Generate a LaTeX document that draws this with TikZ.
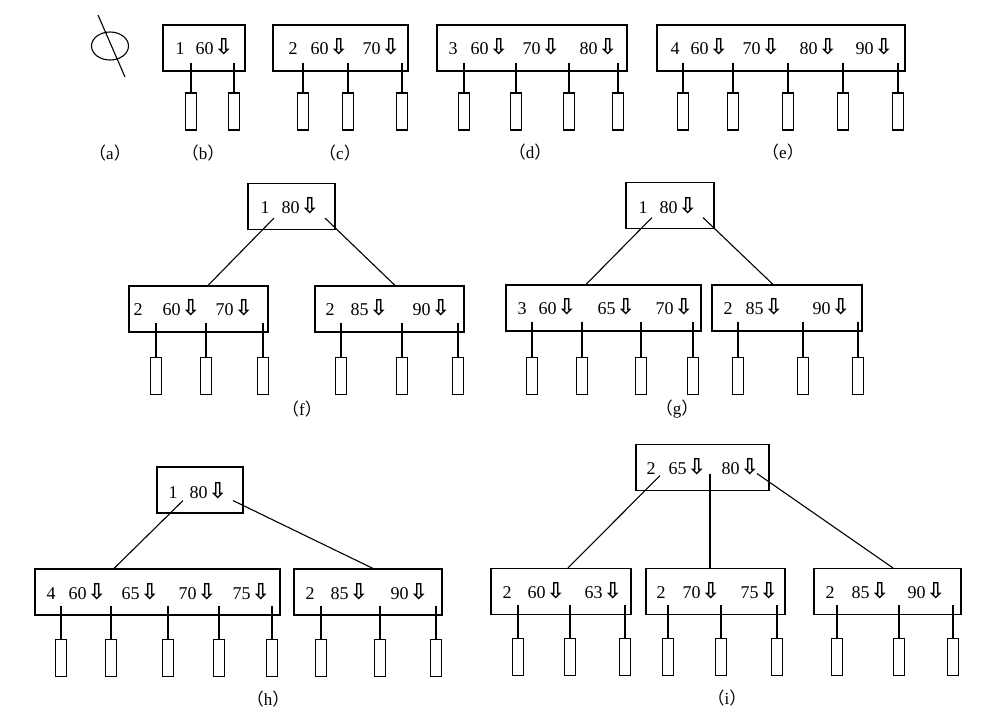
\documentclass[tikz,border=0pt]{standalone}
\usepackage{fontspec}
\setmainfont{Liberation Serif}
\newfontfamily\symfont{DejaVu Sans Bold}
\newfontfamily\cjkfont{Noto Sans CJK SC}
\usetikzlibrary{calc}
\newcommand{\dn}{\kern1pt{\symfont\fontsize{22}{22}\selectfont ⇩}}
\newcommand{\figtag}[1]{{\cjkfont （}#1{\cjkfont ）}}
\tikzset{
  keybox/.style={draw, minimum height=46pt, inner sep=0pt},
  leafbox/.style={draw, minimum width=11pt, minimum height=37pt, inner sep=0pt},
  keytext/.style={anchor=base west, inner sep=0pt, yshift=-6pt, font=\fontsize{18}{18}\selectfont},
  tag/.style={inner sep=0pt, font=\fontsize{17}{17}\selectfont}
}
\begin{document}
\begin{tikzpicture}[x=1pt,y=-1pt,line width=1.1pt]
  \useasboundingbox (0,0) rectangle (1003,724);
  % (a) empty tree
  \draw (110,46) ellipse [x radius=18.5, y radius=14];
  \draw (98,15) -- (125,77);
  \node[tag] (ta) at (110,153) {\figtag{a}};
  % (b)
  \node[keybox, minimum width=82pt] (b0) at (204,48) {};
  \foreach \x/\t [count=\i] in {175/1, 195/60\dn}
    \node[keytext] (b0t\i) at (\x,48) {\t};
  \foreach \x [count=\i] in {191,234} {
    \node[leafbox] (b\i) at (\x,111.5) {};
    \draw ($(b0.south -| b\i)+(0,-9)$) -- (b\i.north);
  }
  \node[tag] (tb) at (203,153) {\figtag{b}};
  % (c)
  \node[keybox, minimum width=135pt] (c0) at (340.5,48) {};
  \foreach \x/\t [count=\i] in {288/2, 310/60\dn, 362/70\dn}
    \node[keytext] (c0t\i) at (\x,48) {\t};
  \foreach \x [count=\i] in {303,348,402} {
    \node[leafbox] (c\i) at (\x,111.5) {};
    \draw ($(c0.south -| c\i)+(0,-9)$) -- (c\i.north);
  }
  \node[tag] (tc) at (340,153) {\figtag{c}};
  % (d)
  \node[keybox, minimum width=190pt] (d0) at (532,48) {};
  \foreach \x/\t [count=\i] in {448/3, 470/60\dn, 522/70\dn, 579/80\dn}
    \node[keytext] (d0t\i) at (\x,48) {\t};
  \foreach \x [count=\i] in {464,516,569,618} {
    \node[leafbox] (d\i) at (\x,111.5) {};
    \draw ($(d0.south -| d\i)+(0,-9)$) -- (d\i.north);
  }
  \node[tag] (td) at (530,152) {\figtag{d}};
  % (e)
  \node[keybox, minimum width=248pt] (e0) at (781,48) {};
  \foreach \x/\t [count=\i] in {670/4, 690/60\dn, 742/70\dn, 799/80\dn, 855/90\dn}
    \node[keytext] (e0t\i) at (\x,48) {\t};
  \foreach \x [count=\i] in {683,733,788,843,898} {
    \node[leafbox] (e\i) at (\x,111.5) {};
    \draw ($(e0.south -| e\i)+(0,-9)$) -- (e\i.north);
  }
  \node[tag] (te) at (783,152) {\figtag{e}};
  % (f)
  \node[keybox, minimum width=87pt] (f0) at (291.5,206.5) {};
  \node[keybox, minimum width=139pt] (fL) at (198.5,309) {};
  \node[keybox, minimum width=149pt] (fR) at (389.5,309) {};
  \foreach \x/\t [count=\i] in {260/1, 281/80\dn}
    \node[keytext] (f0t\i) at (\x,207) {\t};
  \foreach \x/\t [count=\i] in {133/2, 162/60\dn, 215/70\dn}
    \node[keytext] (fLt\i) at (\x,309) {\t};
  \foreach \x/\t [count=\i] in {325/2, 350/85\dn, 412/90\dn}
    \node[keytext] (fRt\i) at (\x,309) {\t};
  \draw ($(f0.south)+(-17.5,-12)$) -- ($(fL.north)+(9.5,0)$);
  \draw ($(f0.south)+(33.5,-12)$) -- ($(fR.north)+(5.5,0)$);
  \foreach \x [count=\i] in {156,206,263} {
    \node[leafbox] (fL\i) at (\x,376) {};
    \draw ($(fL.south -| fL\i)+(0,-10)$) -- (fL\i.north);
  }
  \foreach \x [count=\i] in {341,402,458} {
    \node[leafbox] (fR\i) at (\x,376) {};
    \draw ($(fR.south -| fR\i)+(0,-10)$) -- (fR\i.north);
  }
  \node[tag] (tf) at (302,409) {\figtag{f}};
  % (g)
  \node[keybox, minimum width=88pt] (g0) at (670,205.5) {};
  \node[keybox, minimum width=195pt] (gL) at (603.5,308) {};
  \node[keybox, minimum width=150pt] (gR) at (787,308) {};
  \foreach \x/\t [count=\i] in {638/1, 659/80\dn}
    \node[keytext] (g0t\i) at (\x,207) {\t};
  \foreach \x/\t [count=\i] in {517/3, 538/60\dn, 597/65\dn, 655/70\dn}
    \node[keytext] (gLt\i) at (\x,308) {\t};
  \foreach \x/\t [count=\i] in {723/2, 745/85\dn, 812/90\dn}
    \node[keytext] (gRt\i) at (\x,308) {\t};
  \draw ($(g0.south)+(-18,-11.5)$) -- ($(gL.north)+(-17.5,0)$);
  \draw ($(g0.south)+(33,-11.5)$) -- ($(gR.north)+(-14,0)$);
  \foreach \x [count=\i] in {532,582,641,693} {
    \node[leafbox] (gL\i) at (\x,376) {};
    \draw ($(gL.south -| gL\i)+(0,-10)$) -- (gL\i.north);
  }
  \foreach \x [count=\i] in {738,803,858} {
    \node[leafbox] (gR\i) at (\x,376) {};
    \draw ($(gR.south -| gR\i)+(0,-10)$) -- (gR\i.north);
  }
  \node[tag] (tg) at (677,409) {\figtag{g}};
  % (h)
  \node[keybox, minimum width=86pt] (h0) at (200,490) {};
  \node[keybox, minimum width=245pt] (hL) at (157.5,592) {};
  \node[keybox, minimum width=148pt] (hR) at (368,592) {};
  \foreach \x/\t [count=\i] in {168/1, 189/80\dn}
    \node[keytext] (h0t\i) at (\x,492) {\t};
  \foreach \x/\t [count=\i] in {46/4, 68/60\dn, 121/65\dn, 178/70\dn, 232/75\dn}
    \node[keytext] (hLt\i) at (\x,593) {\t};
  \foreach \x/\t [count=\i] in {305/2, 330/85\dn, 390/90\dn}
    \node[keytext] (hRt\i) at (\x,593) {\t};
  \draw ($(h0.south)+(-17,-13)$) -- ($(hL.north)+(-43.5,0)$);
  \draw ($(h0.south)+(33,-13)$) -- ($(hR.north)+(5,0)$);
  \foreach \x [count=\i] in {61,111,168,219,272} {
    \node[leafbox] (hL\i) at (\x,658) {};
    \draw ($(hL.south -| hL\i)+(0,-10)$) -- (hL\i.north);
  }
  \foreach \x [count=\i] in {321,380,436} {
    \node[leafbox] (hR\i) at (\x,658) {};
    \draw ($(hR.south -| hR\i)+(0,-10)$) -- (hR\i.north);
  }
  \node[tag] (th) at (268,699) {\figtag{h}};
  % (i)
  \node[keybox, minimum width=133pt] (i0) at (702.5,467.5) {};
  \node[keybox, minimum width=140pt] (iL) at (561,591.5) {};
  \node[keybox, minimum width=139pt] (iM) at (715.5,591.5) {};
  \node[keybox, minimum width=147pt] (iR) at (887.5,591.5) {};
  \foreach \x/\t [count=\i] in {646/2, 668/65\dn, 721/80\dn}
    \node[keytext] (i0t\i) at (\x,468) {\t};
  \foreach \x/\t [count=\i] in {502/2, 527/60\dn, 584/63\dn}
    \node[keytext] (iLt\i) at (\x,592) {\t};
  \foreach \x/\t [count=\i] in {656/2, 682/70\dn, 740/75\dn}
    \node[keytext] (iMt\i) at (\x,592) {\t};
  \foreach \x/\t [count=\i] in {825/2, 851/85\dn, 907/90\dn}
    \node[keytext] (iRt\i) at (\x,592) {\t};
  \draw ($(i0.south)+(-42.5,-15.5)$) -- ($(iL.north)+(7,0)$);
  \draw ($(i0.south)+(7.5,-17.5)$) -- ($(iM.north)+(-5.5,0)$);
  \draw ($(i0.south)+(54.5,-17.5)$) -- ($(iR.north)+(5.5,0)$);
  \foreach \x [count=\i] in {518,570,625} {
    \node[leafbox] (iL\i) at (\x,657) {};
    \draw ($(iL.south -| iL\i)+(0,-10)$) -- (iL\i.north);
  }
  \foreach \x [count=\i] in {668,721,777} {
    \node[leafbox] (iM\i) at (\x,657) {};
    \draw ($(iM.south -| iM\i)+(0,-10)$) -- (iM\i.north);
  }
  \foreach \x [count=\i] in {837,899,953} {
    \node[leafbox] (iR\i) at (\x,657) {};
    \draw ($(iR.south -| iR\i)+(0,-10)$) -- (iR\i.north);
  }
  \node[tag] (ti) at (727,698) {\figtag{i}};
\end{tikzpicture}
\end{document}
